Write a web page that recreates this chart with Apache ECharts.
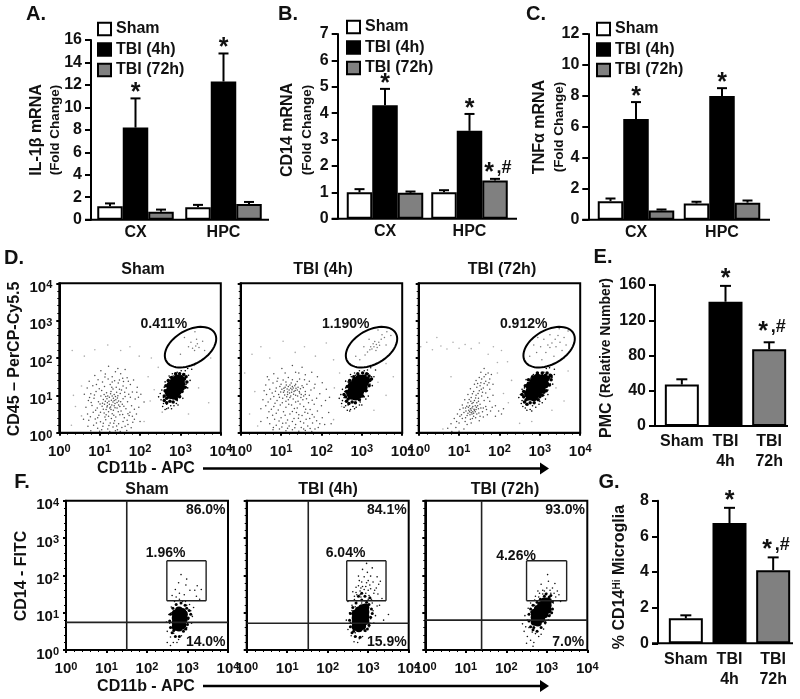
<!DOCTYPE html>
<html>
<head>
<meta charset="utf-8">
<script src="https://cdn.jsdelivr.net/npm/echarts@6/dist/echarts.min.js"></script>
<style>html,body{margin:0;background:#fff}#c{width:800px;height:699px}</style>
</head>
<body>
<div id="c"></div>
<script>
const FONT = 'Liberation Sans';
const INK = '#111';
const GROUPS = ['Sham', 'TBI (4h)', 'TBI (72h)'];
const FILLS = ['#fff', '#000', '#808080'];
const REGIONS = ['CX', 'HPC'];
const TIMES = ['Sham', 'TBI\n4h', 'TBI\n72h'];

// mRNA panels, one row per group, [CX, HPC]
const il1bMeans = [[1.2, 1.1], [8.2, 12.3], [0.7, 1.4]];
const il1bTops = [[1.45, 1.32], [10.8, 14.8], [0.9, 1.58]];
const il1bStars = [['', ''], ['*', '*'], ['', '']];
const cd14Means = [[1.0, 1.0], [4.3, 3.33], [0.98, 1.45]];
const cd14Tops = [[1.12, 1.08], [4.92, 3.97], [1.03, 1.51]];
const cd14Stars = [['', ''], ['*', '*'], ['', '*,#']];
const tnfMeans = [[1.2, 1.05], [6.5, 8.0], [0.6, 1.1]];
const tnfTops = [[1.37, 1.16], [7.6, 8.5], [0.66, 1.24]];
const tnfStars = [['', ''], ['*', '*'], ['', '']];

const pmcMeans = [47, 141, 87];
const pmcTops = [53, 159, 95];
const pmcStars = ['', '*', '*,#'];
const hiMeans = [1.4, 6.75, 4.1];
const hiTops = [1.57, 7.6, 4.82];
const hiStars = ['', '*', '*,#'];

// flow plots, log10 units
const dShamCloud = [[1.22,1.78],[1.45,1.72],[1.03,1.66],[1.63,1.69],[.88,1.53],[1.14,1.57],[1.31,1.5],[1.52,1.58],[1.68,1.47],[1.84,1.41],[.74,1.38],[.96,1.42],[1.07,1.36],[1.21,1.44],[1.37,1.39],[1.46,1.33],[1.59,1.37],[1.76,1.29],[1.93,1.22],[.69,1.2],[.83,1.26],[.99,1.18],[1.12,1.24],[1.26,1.29],[1.33,1.17],[1.41,1.22],[1.54,1.14],[1.66,1.2],[1.81,1.09],[2.02,1.03],[.78,1.04],[.91,1.1],[1.03,.98],[1.17,1.07],[1.24,.95],[1.36,1.02],[1.44,.93],[1.51,1.05],[1.63,.97],[1.72,1.03],[1.88,.9],[.72,.86],[.86,.92],[.97,.83],[1.09,.89],[1.19,.8],[1.29,.87],[1.38,.78],[1.47,.85],[1.56,.76],[1.69,.83],[1.79,.72],[1.97,.68],[.66,.68],[.81,.73],[.94,.66],[1.06,.71],[1.16,.62],[1.27,.69],[1.34,.6],[1.43,.66],[1.53,.58],[1.65,.64],[1.75,.55],[1.91,.5],[.7,.5],[.84,.55],[.98,.47],[1.11,.53],[1.22,.44],[1.31,.51],[1.4,.42],[1.5,.48],[1.61,.4],[1.73,.46],[1.86,.36],[.73,.33],[.89,.37],[1.02,.29],[1.15,.35],[1.26,.26],[1.37,.32],[1.47,.24],[1.58,.3],[1.7,.22],[1.82,.28],[.71,.17],[.85,.2],[.95,.12],[1.08,.17],[1.2,.1],[1.33,.15],[1.44,.08],[1.55,.14],[1.67,.06],[.78,.05],[1.0,.04],[1.25,.03],[1.39,.05],[1.28,1.1],[1.34,.92],[1.2,.98],[1.42,1.08],[1.31,.98],[1.24,.76],[1.36,.72],[1.12,.76],[1.47,.74],[1.18,.91],[1.4,.88],[1.28,.62],[1.22,.56],[1.09,.63],
[1.13,1.49],[1.39,1.63],[.92,1.29],[1.57,1.46],[1.71,1.38],[1.05,1.13],[1.31,1.36],[1.49,1.16],[1.62,1.08],[.87,1.01],[1.15,.97],[1.27,1.04],[1.39,.97],[1.58,.91],[1.76,.95],[.79,.81],[1.01,.77],[1.14,.84],[1.33,.82],[1.43,.81],[1.6,.71],[1.86,.63],[.9,.6],[1.02,.55],[1.19,.72],[1.25,.66],[1.38,.67],[1.5,.7],[1.7,.51],[.77,.43],[.95,.4],[1.16,.48],[1.35,.47],[1.46,.56],[1.57,.49],[1.81,.44],[1.09,.25],[1.29,.38],[1.42,.18],[1.63,.17],[.92,.26],[1.05,.08],[1.51,.03],[1.78,.13],[1.23,.19],[1.35,.25],[1.68,.33],[1.13,.42],[1.3,.74],[1.23,.84],[1.36,.86],[1.18,.69],[1.45,.99],[1.07,.79],[1.52,.83],[1.3,1.22],[1.11,1.02],[1.58,1.25],[.75,.94],[1.96,.95],[2.1,.82],[2.0,.3],[.62,1.03],[.6,.36],[1.92,1.08],[1.49,1.41]];
const dShamFaint = [[.35,1.0],[.4,.7],[.55,1.25],[.32,2.2],[.62,2.05],[.88,2.22],[1.2,2.35],[1.52,2.2],[1.75,2.3],[1.98,2.05],[2.28,2.0],[2.45,1.75],[2.2,1.5],[2.35,1.15],[2.25,.85],[2.55,.55],[3.35,1.8],[3.45,1.2],[3.7,.8],[3.2,.5],[2.1,.3],[.55,.45],[.3,.2],[3.75,2.0]];
const dShamCore = [[2.76,1.02],[2.76,1.14],[2.76,1.26],[2.84,1.0],[2.84,1.12],[2.84,1.24],[2.84,1.36],[2.92,1.1],[2.92,1.22],[2.92,1.34],[2.92,1.44],[3.0,1.22],[3.0,1.34],[3.0,1.42],[2.72,1.08]];
const dShamMid = [[2.6,.98],[2.62,1.12],[2.6,.86],[2.66,.8],[2.74,.84],[2.82,.82],[2.9,.9],[2.98,.96],[3.04,1.1],[3.12,1.22],[3.16,1.36],[3.14,1.5],[3.08,1.56],[2.98,1.58],[2.88,1.58],[2.78,1.48],[2.7,1.4],[2.64,1.26],[2.66,.92],[3.08,1.3],[3.02,1.5],[2.7,.96],[2.92,.98],[3.1,1.44]];
const dShamFringe = [[2.52,.88],[2.5,1.05],[2.56,.7],[2.6,1.22],[2.62,.62],[2.68,1.38],[2.7,.66],[2.74,1.48],[2.84,.72],[2.8,1.58],[2.92,.86],[2.92,1.62],[3.0,.98],[3.02,1.66],[3.08,1.16],[3.14,1.3],[3.1,1.58],[3.2,1.54],[3.28,1.7],[3.18,1.72],[2.58,.94],[2.66,.76],[2.76,.72],[2.62,1.12],[2.7,1.3],[3.06,1.24],[3.12,1.46],[2.98,1.6],[2.9,.78],[2.82,1.52],[2.46,.96],[2.54,1.14],[2.58,.78],[2.66,.64],[2.78,.64],[2.94,.74],[3.06,.92],[3.18,1.2],[3.24,1.4],[2.72,1.52],[2.62,1.36],[3.12,1.66]];
const dShamGate = [[3.38,2.32],[3.42,2.38],[3.3,2.26],[3.35,2.2],[3.46,2.28],[3.26,2.42],[3.4,2.5],[3.2,2.3],[3.0,2.1],[3.55,2.45],[3.36,2.7],[3.1,2.55],[3.6,2.2]];

const d4hCloud = [[1.02,1.72],[1.28,1.8],[1.52,1.75],[1.76,1.62],[.82,1.58],[1.1,1.6],[1.36,1.62],[1.6,1.55],[1.9,1.5],[.7,1.42],[.92,1.46],[1.18,1.48],[1.28,1.42],[1.46,1.44],[1.7,1.38],[2.02,1.34],[.62,1.28],[.8,1.33],[1.0,1.3],[1.12,1.36],[1.22,1.28],[1.36,1.3],[1.52,1.26],[1.64,1.3],[1.82,1.2],[2.12,1.16],[.72,1.16],[.88,1.2],[1.02,1.16],[1.1,1.22],[1.2,1.14],[1.3,1.2],[1.4,1.14],[1.48,1.18],[1.6,1.1],[1.74,1.14],[1.96,1.04],[.64,1.02],[.78,1.06],[.94,1.02],[1.06,1.08],[1.16,1.02],[1.26,1.08],[1.36,1.0],[1.46,1.06],[1.56,.98],[1.7,1.0],[1.88,.92],[2.1,.86],[.55,.88],[.74,.9],[.9,.86],[1.04,.92],[1.18,.88],[1.3,.9],[1.42,.84],[1.54,.88],[1.68,.8],[1.82,.76],[2.0,.72],[.62,.72],[.82,.7],[.98,.74],[1.12,.68],[1.26,.74],[1.4,.66],[1.56,.7],[1.72,.62],[1.9,.58],[2.18,.54],[.7,.56],[.88,.52],[1.06,.56],[1.22,.5],[1.38,.54],[1.52,.46],[1.66,.52],[1.82,.42],[2.02,.4],[.66,.4],[.84,.36],[1.0,.4],[1.16,.34],[1.32,.38],[1.48,.3],[1.62,.36],[1.78,.26],[1.96,.24],[.72,.24],[.88,.2],[1.04,.25],[1.2,.18],[1.36,.22],[1.5,.14],[1.66,.18],[1.84,.1],[.8,.08],[.96,.1],[1.12,.05],[1.28,.08],[1.44,.04],[1.6,.06],[1.76,.03],[1.32,1.1],[1.18,1.24],[1.24,.98],[1.42,1.22],[1.08,1.12],[1.5,1.02],[1.34,1.26],[1.14,.96],
[1.25,1.33],[1.4,1.37],[1.05,1.41],[.86,1.11],[.97,1.24],[1.15,1.17],[1.27,1.15],[1.37,1.19],[1.45,1.1],[1.55,1.21],[.99,1.09],[1.09,1.01],[1.21,1.06],[1.31,1.03],[1.41,.98],[1.6,1.02],[.82,.97],[.96,.95],[1.12,.84],[1.22,.94],[1.36,.82],[1.49,.94],[1.63,.91],[1.77,.87],[.68,.82],[.85,.79],[1.03,.8],[1.19,.76],[1.33,.65],[1.47,.77],[1.61,.63],[.76,.63],[.93,.61],[1.1,.47],[1.28,.57],[1.44,.48],[1.59,.55],[1.77,.49],[.79,.47],[.95,.31],[1.12,.26],[1.28,.3],[1.43,.39],[1.56,.26],[1.71,.38],[1.88,.32],[.81,.14],[1.02,.15],[1.16,.12],[1.34,.13],[1.56,.1],[1.72,.11],[1.92,.14],[2.08,.22],[1.24,1.19],[1.13,1.28],[1.35,1.13],[1.07,1.19],[1.28,1.24],[1.16,1.09],[.9,1.38],[1.58,1.42],[1.84,1.3],[1.44,1.6],[2.2,.95],[2.24,.24],[.5,.64],[.5,.3],[.58,1.12],[.66,1.5]];
const d4hFaint = [[.1,1.6],[.28,2.1],[.5,2.3],[.72,2.0],[1.05,2.45],[1.35,2.15],[1.58,2.3],[1.85,2.05],[2.12,2.4],[2.3,1.95],[2.45,1.6],[2.32,1.2],[2.5,.7],[2.3,.35],[3.4,1.35],[3.6,1.0],[3.3,.6],[3.78,1.5],[3.6,1.85],[.35,1.1],[.22,.5],[.42,.18]];
const d4hCore = [[2.76,1.0],[2.76,1.13],[2.76,1.26],[2.85,.98],[2.85,1.11],[2.85,1.24],[2.85,1.37],[2.94,1.08],[2.94,1.21],[2.94,1.34],[2.94,1.44],[3.03,1.2],[3.03,1.33],[3.03,1.43],[3.08,1.38],[2.72,1.06]];
const d4hMid = [[2.6,.96],[2.62,1.1],[2.62,.84],[2.68,.78],[2.76,.82],[2.84,.8],[2.94,.88],[3.02,.98],[3.1,1.12],[3.18,1.26],[3.2,1.4],[3.18,1.52],[3.12,1.58],[3.02,1.6],[2.9,1.58],[2.8,1.5],[2.7,1.4],[2.64,1.24],[2.66,.9],[3.12,1.3],[3.08,1.52],[2.7,.94],[2.96,.96],[3.14,1.46],[2.56,1.02],[3.24,1.44]];
const d4hFringe = [[2.52,.86],[2.48,1.02],[2.56,.68],[2.6,1.2],[2.64,.6],[2.66,1.36],[2.72,.62],[2.74,1.5],[2.86,.68],[2.82,1.6],[2.96,.82],[2.94,1.66],[3.06,.96],[3.06,1.66],[3.14,1.12],[3.2,1.3],[3.16,1.58],[3.24,1.5],[3.34,1.68],[3.22,1.74],[2.56,.94],[2.66,.74],[2.78,.7],[2.58,1.1],[2.68,1.34],[3.12,1.22],[3.18,1.46],[3.02,1.6],[2.94,.74],[2.84,1.54],[2.5,.78],[3.1,.9],[2.44,.92],[2.52,1.16],[2.6,.72],[2.7,.58],[2.82,.64],[3.0,.74],[3.16,.98],[3.26,1.26],[3.3,1.5],[2.72,1.56],[2.6,1.38],[3.14,1.68]];
const d4hGate = [[3.3,2.3],[3.36,2.36],[3.25,2.24],[3.42,2.42],[3.48,2.5],[3.2,2.22],[3.32,2.44],[3.14,2.16],[3.38,2.28],[3.5,2.62],[3.56,2.55],[3.44,2.34],[3.28,2.38],[3.62,2.7],[3.08,2.08],[2.95,1.95],[3.05,2.3],[3.6,2.35],[3.72,2.6],[3.4,2.75],[3.18,2.5],[2.85,2.05],[3.22,2.3],[3.35,2.2]];

const d72Cloud = [[1.62,1.72],[1.72,1.6],[1.54,1.62],[1.8,1.56],[1.62,1.5],[1.5,1.48],[1.76,1.44],[1.42,1.4],[1.66,1.38],[1.54,1.34],[1.38,1.3],[1.7,1.28],[1.84,1.3],[1.44,1.22],[1.6,1.2],[1.28,1.18],[1.76,1.16],[1.36,1.1],[1.5,1.12],[1.66,1.06],[1.22,1.02],[1.42,1.0],[1.56,.98],[1.84,1.0],[1.3,.94],[1.48,.92],[1.14,.88],[1.38,.86],[1.62,.86],[1.76,.84],[1.22,.8],[1.44,.8],[1.32,.78],[1.52,.76],[1.08,.74],[1.26,.72],[1.4,.72],[1.66,.7],[1.9,.72],[1.16,.66],[1.32,.66],[1.48,.64],[1.02,.62],[1.24,.6],[1.38,.6],[1.58,.56],[1.78,.58],[2.1,.64],[1.12,.54],[1.3,.54],[1.44,.5],[.96,.5],[1.2,.46],[1.36,.44],[1.6,.42],[1.9,.44],[2.05,.5],[.88,.38],[1.08,.38],[1.28,.36],[1.5,.32],[.8,.24],[1.0,.26],[1.2,.22],[.92,.14],[1.12,.1],[.72,.12],[1.0,.04],[.82,.03],[1.36,.52],[1.28,.64],[1.4,.56],[1.34,.7],[1.22,.52],[1.46,.72],[1.52,1.26],[1.58,1.08],[1.32,.5],[1.26,.56],
[1.47,1.05],[1.33,1.04],[1.55,1.16],[1.41,.93],[1.25,.89],[1.35,.81],[1.19,.71],[1.29,.84],[1.43,.68],[1.17,.58],[1.37,.63],[1.3,.6],[1.23,.68],[1.34,.56],[1.27,.48],[1.42,.62],[1.49,.53],[1.1,.66],[1.06,.48],[1.16,.4],[1.02,.44],[1.33,.38],[1.41,.4],[.94,.3],[1.15,.3],[1.3,.26],[1.71,.94],[1.6,.66],[1.7,.48],[1.52,.44],[1.82,.68],[1.98,.58],[1.62,1.32],[1.46,1.32],[1.56,1.44],[1.66,1.56],[1.74,1.34],[1.48,.84],[1.54,.66],[1.68,.62]];
const d72Faint = [[.05,2.3],[.2,2.42],[.34,2.22],[.45,2.55],[.55,2.32],[.7,2.24],[.85,2.42],[1.0,2.26],[1.15,2.36],[1.3,2.25],[1.5,2.4],[1.72,2.1],[1.85,2.3],[2.05,2.2],[1.95,1.88],[2.2,1.9],[1.95,1.6],[2.3,1.4],[2.1,1.05],[2.22,.8],[3.4,1.2],[3.6,.85],[3.3,.6],[2.8,.3],[2.5,.25],[.6,.1],[3.7,1.65],[.8,1.5]];
const d72Core = [[2.76,.98],[2.76,1.12],[2.76,1.25],[2.85,.96],[2.85,1.1],[2.85,1.24],[2.85,1.36],[2.94,1.06],[2.94,1.2],[2.94,1.34],[2.94,1.46],[3.03,1.16],[3.03,1.3],[3.03,1.44],[3.12,1.3],[3.12,1.44],[2.72,1.04]];
const d72Mid = [[2.6,.96],[2.6,1.1],[2.62,.82],[2.68,.76],[2.76,.8],[2.86,.8],[2.96,.88],[3.06,1.0],[3.16,1.12],[3.24,1.28],[3.28,1.42],[3.26,1.54],[3.18,1.6],[3.06,1.6],[2.94,1.6],[2.82,1.5],[2.72,1.42],[2.64,1.26],[2.66,.88],[3.18,1.3],[3.14,1.54],[2.7,.9],[3.0,.96],[3.22,1.48],[2.56,1.02],[3.28,1.52],[3.1,1.08]];
const d72Fringe = [[2.56,.86],[2.52,1.02],[2.58,.7],[2.62,1.2],[2.68,.6],[2.7,1.34],[2.76,.62],[2.78,1.46],[2.9,.68],[2.84,1.56],[3.0,.84],[2.96,1.6],[3.1,1.0],[3.1,1.62],[3.2,1.14],[3.26,1.3],[3.24,1.56],[3.3,1.48],[3.36,1.7],[3.24,1.74],[2.6,.94],[2.7,.74],[2.82,.72],[2.62,1.1],[2.72,1.3],[3.16,1.24],[3.22,1.42],[3.06,1.56],[2.98,.76],[2.88,1.5],[2.54,.78],[3.14,.9],[2.48,.94],[2.56,1.16],[2.64,.66],[2.8,.58],[3.06,.8],[3.2,1.02],[3.32,1.3],[3.36,1.56],[2.66,1.42],[3.16,1.72]];
const d72Gate = [[3.2,2.35],[3.3,2.4],[3.4,2.3],[3.5,2.42],[3.6,2.55],[3.1,2.5],[3.02,2.3],[2.92,2.15],[3.25,2.62],[3.45,2.6],[3.65,2.35],[3.15,2.15],[3.35,2.05],[2.85,2.35],[3.7,2.72],[3.55,2.2],[3.05,1.95],[2.75,2.05],[3.25,2.28],[3.38,2.5],[2.95,2.55],[3.48,2.78],[3.6,2.0]];

const fShamCore = [[2.71,.62],[2.71,.74],[2.71,.86],[2.71,.98],[2.79,.6],[2.79,.72],[2.79,.84],[2.79,.96],[2.79,1.06],[2.87,.66],[2.87,.78],[2.87,.9],[2.87,1.02],[2.91,.84],[2.91,.96]];
const fShamMid = [[2.58,.6],[2.56,.78],[2.58,.96],[2.62,.46],[2.64,1.12],[2.7,.36],[2.72,1.22],[2.8,.36],[2.84,1.26],[2.9,.5],[2.94,1.2],[3.0,.68],[3.02,.86],[3.04,1.06],[2.96,.56],[3.08,.96],[2.66,.52],[2.98,1.12]];
const fShamFringe = [[2.5,.5],[2.48,.75],[2.54,.95],[2.58,.35],[2.6,1.15],[2.65,.2],[2.68,1.3],[2.78,.28],[2.85,.38],[2.98,.6],[3.02,.82],[3.08,1.05],[3.12,.9],[3.05,1.22],[3.15,1.14],[2.95,1.3],[2.8,1.36],[2.72,1.42],[2.6,.6],[2.64,.85],[2.66,.45],[2.7,.36],[2.92,.55],[3.0,.72],[2.98,1.2],[2.88,1.3],[2.56,.72],[2.74,.2],[3.1,.72],[2.6,1.0],[2.8,1.52],[2.92,1.48],[3.06,1.6],[2.7,1.62],[2.62,1.46],[3.22,1.44],[2.96,1.74],[2.78,1.8],[3.24,1.72],[3.3,1.36],[2.5,.2],[2.58,.12],[3.18,1.6],[3.34,1.62],[2.84,2.02],[2.98,1.9]];
const f4hCore = [[2.69,.62],[2.69,.74],[2.69,.86],[2.69,.98],[2.77,.58],[2.77,.7],[2.77,.82],[2.77,.94],[2.77,1.06],[2.85,.64],[2.85,.76],[2.85,.88],[2.85,1.0],[2.85,1.12],[2.93,.78],[2.93,.9],[2.93,1.02],[2.93,1.14]];
const f4hMid = [[2.56,.62],[2.54,.8],[2.56,.98],[2.6,.46],[2.62,1.14],[2.68,.36],[2.7,1.26],[2.8,.34],[2.84,1.34],[2.92,.52],[2.96,1.28],[3.02,.66],[3.06,.88],[3.08,1.1],[2.98,.56],[3.1,.98],[2.64,.5],[3.02,1.22],[2.76,1.44],[2.92,1.44],[3.04,1.4],[2.84,1.52]];
const f4hFringe = [[2.5,.55],[2.46,.8],[2.54,1.0],[2.58,.38],[2.6,1.2],[2.65,.22],[2.66,1.35],[2.78,.3],[2.86,.36],[3.02,.62],[3.06,.84],[3.12,1.05],[3.18,.92],[3.1,1.26],[3.22,1.18],[3.0,1.36],[2.82,1.42],[2.72,1.48],[2.62,.62],[2.64,.88],[2.68,.46],[2.7,.36],[2.94,.5],[3.04,.72],[3.0,1.22],[2.9,1.32],[2.56,.74],[2.74,.2],[3.14,.72],[2.6,1.06],[2.8,1.58],[2.94,1.52],[3.06,1.64],[2.7,1.68],[2.62,1.56],[3.24,1.5],[2.96,1.8],[2.78,1.86],[3.26,1.76],[3.34,1.38],[2.86,1.7],[2.72,1.32],[2.92,1.22],[3.02,1.46],[2.84,1.26],[2.68,1.16],[3.08,1.36],[2.9,1.96],[3.12,1.82],[2.76,1.98],[2.98,2.08],[2.86,2.16],[3.06,1.98],[3.22,1.96],[3.0,1.6],[2.8,1.48],[2.66,1.44],[3.16,1.6],[3.5,.95],[2.9,1.62],[2.76,1.72],[2.84,1.82],[3.04,1.74],[3.14,1.52],[2.7,1.54],[2.94,1.7],[3.2,1.66],[2.82,1.66],[3.0,1.86],[2.96,2.32],[3.1,2.2],[3.3,1.84],[3.28,1.2],[3.38,.8],[2.5,1.3]];
const f72Core = [[2.7,.76],[2.7,.88],[2.7,1.0],[2.78,.74],[2.78,.86],[2.78,.98],[2.78,1.1],[2.86,.84],[2.86,.96],[2.86,1.08],[2.86,1.2],[2.94,.96],[2.94,1.08],[2.94,1.2],[2.94,1.3],[3.02,1.08],[3.02,1.2],[3.02,1.3]];
const f72Mid = [[2.56,.78],[2.56,.96],[2.6,.62],[2.6,1.1],[2.66,.54],[2.66,1.2],[2.76,.5],[2.76,1.28],[2.86,.6],[2.84,1.36],[2.96,.74],[2.94,1.44],[3.06,.92],[3.06,1.42],[3.14,1.1],[3.14,1.3],[3.1,1.46],[2.98,1.5],[2.68,.6],[3.12,1.0]];
const f72Fringe = [[2.4,.7],[2.44,.5],[2.46,.92],[2.52,.36],[2.54,1.12],[2.6,.26],[2.6,1.26],[2.68,.2],[2.7,1.34],[2.8,.36],[2.8,1.42],[2.92,.56],[2.9,1.5],[3.04,.8],[3.0,1.52],[3.12,1.0],[3.1,1.52],[3.16,1.26],[3.22,1.42],[2.56,.6],[2.52,.8],[2.64,.48],[2.6,1.02],[2.72,.44],[2.7,1.2],[2.96,.7],[3.08,.94],[3.1,1.36],[2.9,1.6],[2.78,1.58],[3.0,1.66],[3.14,1.66],[3.26,1.58],[2.86,1.76],[3.04,1.84],[3.2,1.78],[2.66,.1],[2.5,.18],[3.34,1.3],[3.02,2.02],[2.82,1.52],[2.94,1.58],[3.08,1.6],[2.72,1.44],[3.18,1.52],[3.3,1.48],[2.48,.62],[2.86,.42]];

const dGateCenters = [[3.25, 2.29], [3.24, 2.29], [3.23, 2.29]];
const dGateLabels = ['0.411%', '1.190%', '0.912%'];
const fQuadX = [1.5, 1.52, 1.39];
const fQuadY = [0.74, 0.715, 0.8];
const fBoxes = [[2.49, 1.32, 3.46, 2.39], [2.47, 1.32, 3.44, 2.39], [2.5, 1.32, 3.49, 2.39]];
const fLabels = [
  [[3.45, 3.75, '86.0%'], [2.46, 2.59, '1.96%'], [3.45, 0.2, '14.0%']],
  [[3.46, 3.75, '84.1%'], [2.44, 2.59, '6.04%'], [3.46, 0.2, '15.9%']],
  [[3.45, 3.75, '93.0%'], [2.24, 2.52, '4.26%'], [3.53, 0.2, '7.0%']]
];

const grid = [], xAxis = [], yAxis = [], series = [], legend = [], graphic = [];

function text(x, y, str, size, extra) {
  graphic.push(Object.assign({
    type: 'text', x, y, silent: true,
    style: Object.assign({ text: str, font: `bold ${size}px "${FONT}"`, fill: INK, textAlign: 'center', textVerticalAlign: 'middle' }, extra && extra.style)
  }, extra && extra.el));
}
function vtext(x, y, str, size, rich) {
  text(x, y, str, size, { el: { rotation: Math.PI / 2 }, style: rich ? { rich } : null });
}
function rule(x1, x2, y, w) {
  graphic.push({ type: 'line', silent: true, shape: { x1, y1: y, x2, y2: y }, style: { stroke: '#000', lineWidth: w || 2 } });
}
function arrow(x1, x2, y) {
  rule(x1, x2 - 8, y, 2.5);
  graphic.push({ type: 'polygon', silent: true, shape: { points: [[x2 - 9, y - 6], [x2, y], [x2 - 9, y + 6]] }, style: { fill: '#000' } });
}

// error whisker plus significance mark, px offset keeps it on its dodged bar
function errSeries(gi, rows, offset, capW, starLift, hashLift) {
  series.push({
    type: 'custom', xAxisIndex: gi, yAxisIndex: gi, silent: true, z: 1, data: rows,
    renderItem(p, api) {
      const a = api.coord([api.value(0), api.value(1)]);
      const b = api.coord([api.value(0), api.value(2)]);
      const x = a[0] + offset;
      const st = rows[p.dataIndex][3];
      const kids = [
        { type: 'line', shape: { x1: x, y1: a[1], x2: x, y2: b[1] }, style: { stroke: '#000', lineWidth: 2 } },
        { type: 'line', shape: { x1: x - capW / 2, y1: b[1], x2: x + capW / 2, y2: b[1] }, style: { stroke: '#000', lineWidth: 2 } }
      ];
      const font = s => ({ font: `bold ${s}px "${FONT}"`, fill: INK, textAlign: 'center', textVerticalAlign: 'middle' });
      if (st === '*') {
        kids.push({ type: 'text', x, y: b[1] - starLift, style: Object.assign({ text: '*' }, font(25)) });
      } else if (st) {
        kids.push({ type: 'text', x: x - 6, y: b[1] - hashLift + 5, style: Object.assign({ text: '*' }, font(25)) });
        kids.push({ type: 'text', x: x + 9, y: b[1] - hashLift, style: Object.assign({ text: ',#' }, font(18)) });
      }
      return { type: 'group', children: kids };
    }
  });
}

function axisBase(gi, max, interval, yAxisX, left) {
  yAxis.push({
    gridIndex: gi, type: 'value', min: 0, max, interval, offset: left - yAxisX,
    splitLine: { show: false },
    axisLine: { show: true, onZero: false, lineStyle: { color: '#000', width: 2 } },
    axisTick: { show: true, length: 6, lineStyle: { color: '#000', width: 2 } },
    axisLabel: { color: INK, fontFamily: FONT, fontWeight: 'bold', fontSize: 16, margin: 9 }
  });
}

function mrnaPanel(cfg, means, tops, stars) {
  const gi = grid.length;
  const s = cfg.c2 - cfg.c1, left = cfg.c1 - s / 2;
  grid.push({ left, top: cfg.top, width: 2 * s, height: cfg.bottom - cfg.top });
  xAxis.push({
    gridIndex: gi, type: 'category', data: REGIONS,
    axisLine: { show: false }, axisTick: { show: false },
    axisLabel: { color: INK, fontFamily: FONT, fontWeight: 'bold', fontSize: 16, margin: 5 }
  });
  axisBase(gi, cfg.max, cfg.interval, cfg.y, left);
  means.forEach((vals, k) => {
    series.push({
      type: 'bar', name: GROUPS[k], xAxisIndex: gi, yAxisIndex: gi, data: vals, barWidth: 25.5, barGap: 0, silent: true, z: 2,
      itemStyle: { color: FILLS[k], borderColor: '#000', borderWidth: 2 }
    });
    errSeries(gi, vals.map((v, i) => [i, v, tops[k][i], stars[k][i]]), (k - 1) * 25.5, 10, 5, 11);
  });
  rule(cfg.y - 6, cfg.xEnd, cfg.bottom, 2);
  legend.push({
    selectedMode: false, orient: 'vertical', left: cfg.legendX, top: cfg.legendY, padding: 0, itemWidth: 13, itemHeight: 12.5, itemGap: 4.5, icon: 'rect',
    textStyle: { color: INK, fontFamily: FONT, fontWeight: 'bold', fontSize: 16 },
    data: GROUPS.map((n, k) => ({ name: n, icon: 'rect', itemStyle: { color: FILLS[k], borderColor: '#000', borderWidth: 2 } }))
  });
}

function timePanel(cfg, means, tops, stars) {
  const gi = grid.length;
  grid.push({ left: cfg.left, top: cfg.top, width: cfg.width, height: cfg.bottom - cfg.top });
  xAxis.push({
    gridIndex: gi, type: 'category', data: TIMES,
    axisLine: { show: false }, axisTick: { show: false },
    axisLabel: { color: INK, fontFamily: FONT, fontWeight: 'bold', fontSize: 16, margin: cfg.labelGap, lineHeight: 20.5, interval: 0 }
  });
  axisBase(gi, cfg.max, cfg.interval, cfg.y, cfg.left);
  series.push({
    type: 'bar', name: cfg.name, xAxisIndex: gi, yAxisIndex: gi, barWidth: 34, silent: true, z: 2,
    data: means.map((v, k) => ({ value: v, itemStyle: { color: FILLS[k], borderColor: '#000', borderWidth: 2 } }))
  });
  errSeries(gi, means.map((v, i) => [i, v, tops[i], stars[i]]), 0, 11, 6.5, cfg.hashLift);
  rule(cfg.y - 6, cfg.xEnd, cfg.bottom, 2);
}

function flowGrid(left, top, w, h, showY) {
  const gi = grid.length;
  grid.push({ left, top, width: w, height: h, show: true, borderColor: '#000', borderWidth: 2, backgroundColor: '#fff' });
  const axisCommon = {
    gridIndex: gi, type: 'value', min: 0, max: 4, interval: 1, splitLine: { show: false },
    axisLine: { show: true, onZero: false, lineStyle: { color: '#000', width: 2 } },
    axisTick: { show: true, length: 3, lineStyle: { color: '#000', width: 2 } },
    minorTick: { show: true, splitNumber: 5, length: 2, lineStyle: { color: '#000', width: 1 } },
    minorSplitLine: { show: false }
  };
  const lab = {
    color: INK, fontFamily: FONT, fontWeight: 'bold', fontSize: 15,
    formatter: v => `10{s|${v}}`,
    rich: { s: { fontSize: 11, fontWeight: 'bold', fontFamily: FONT, color: INK, verticalAlign: 'top', padding: [0, 0, 5, 0] } }
  };
  xAxis.push(Object.assign({}, axisCommon, { axisLabel: Object.assign({}, lab, { margin: 11 }) }));
  yAxis.push(Object.assign({}, axisCommon, { axisLabel: Object.assign({ show: showY }, lab, { margin: 7, padding: [9, 0, 0, 0] }) }));
  return gi;
}

function dots(gi, data, size, color, opacity) {
  series.push({ type: 'scatter', xAxisIndex: gi, yAxisIndex: gi, data, symbolSize: size, silent: true, z: 2, itemStyle: { color, opacity } });
}

function pctLabels(gi, data) {
  series.push({
    type: 'scatter', xAxisIndex: gi, yAxisIndex: gi, data, symbolSize: 0, silent: true, z: 5,
    itemStyle: { opacity: 1 },
    label: { show: true, position: 'inside', formatter: p => p.value[2], color: INK, fontFamily: FONT, fontWeight: 'bold', fontSize: 14 }
  });
}

// rotated oval gate, radii in px
function ovalGate(gi, center) {
  series.push({
    type: 'custom', xAxisIndex: gi, yAxisIndex: gi, silent: true, z: 4, data: [center],
    renderItem(p, api) {
      const c = api.coord([api.value(0), api.value(1)]);
      const pts = [];
      const th = -Math.PI / 6;
      for (let i = 0; i < 60; i++) {
        const t = i / 60 * 2 * Math.PI, ex = 28 * Math.cos(t), ey = 17 * Math.sin(t);
        pts.push([c[0] + ex * Math.cos(th) - ey * Math.sin(th), c[1] + ex * Math.sin(th) + ey * Math.cos(th)]);
      }
      return { type: 'polygon', shape: { points: pts }, style: { fill: 'none', stroke: '#000', lineWidth: 2 } };
    }
  });
}

// quadrant lines and the CD14 high box
function quadGate(gi, qx, qy, box) {
  series.push({
    type: 'custom', xAxisIndex: gi, yAxisIndex: gi, silent: true, z: 4, data: [[qx, qy, ...box]],
    renderItem(p, api) {
      const v = i => api.value(i);
      const seg = (a, b, w) => {
        const p1 = api.coord(a), p2 = api.coord(b);
        return { type: 'line', shape: { x1: p1[0], y1: p1[1], x2: p2[0], y2: p2[1] }, style: { stroke: '#222', lineWidth: w } };
      };
      return {
        type: 'group', children: [
          seg([v(0), 0], [v(0), 4], 1.6), seg([0, v(1)], [4, v(1)], 1.6),
          seg([v(2), v(3)], [v(4), v(3)], 1.4), seg([v(4), v(3)], [v(4), v(5)], 1.4),
          seg([v(4), v(5)], [v(2), v(5)], 1.4), seg([v(2), v(5)], [v(2), v(3)], 1.4)
        ]
      };
    }
  });
}

mrnaPanel({ c1: 135.5, c2: 223.5, y: 91, top: 40, bottom: 219.7, max: 16, interval: 2, xEnd: 269, legendX: 97, legendY: 21 }, il1bMeans, il1bTops, il1bStars);
mrnaPanel({ c1: 385, c2: 469.5, y: 337.7, top: 34, bottom: 218.7, max: 7, interval: 1, xEnd: 517, legendX: 346, legendY: 19 }, cd14Means, cd14Tops, cd14Stars);
mrnaPanel({ c1: 636, c2: 722, y: 588.3, top: 34, bottom: 219.7, max: 12, interval: 2, xEnd: 770, legendX: 596, legendY: 21 }, tnfMeans, tnfTops, tnfStars);

timePanel({ name: 'PMC', left: 660, width: 131, y: 655, top: 285, bottom: 426, max: 160, interval: 40, xEnd: 788, labelGap: 5, hashLift: 15 }, pmcMeans, pmcTops, pmcStars);
timePanel({ name: 'CD14Hi', left: 664, width: 131, y: 658, top: 500.7, bottom: 643.3, max: 8, interval: 2, xEnd: 793, labelGap: 6, hashLift: 12 }, hiMeans, hiTops, hiStars);

const dLeft = [59.3, 240.7, 418.7];
const dClouds = [dShamCloud, d4hCloud, d72Cloud];
const dFaints = [dShamFaint, d4hFaint, d72Faint];
const dCores = [dShamCore, d4hCore, d72Core];
const dMids = [dShamMid, d4hMid, d72Mid];
const dFringes = [dShamFringe, d4hFringe, d72Fringe];
const dGatePts = [dShamGate, d4hGate, d72Gate];
dLeft.forEach((l, i) => {
  const gi = flowGrid(l, 283.3, 161.5, 149.4, i === 0);
  dots(gi, dFaints[i], 1.6, '#999', 0.8);
  dots(gi, dClouds[i], 1.5, '#222', 0.8);
  dots(gi, dGatePts[i], 1.5, '#555', 0.8);
  dots(gi, dFringes[i], 1.6, '#000', 1);
  dots(gi, dMids[i], 3.5, '#000', 1);
  dots(gi, dCores[i], 9, '#000', 1);
  ovalGate(gi, dGateCenters[i]);
  pctLabels(gi, [[i === 0 ? 2.59 : 2.6, 2.91, dGateLabels[i]]]);
});

const fLeft = [66, 246.7, 425.3];
const fCores = [fShamCore, f4hCore, f72Core];
const fMids = [fShamMid, f4hMid, f72Mid];
const fFringes = [fShamFringe, f4hFringe, f72Fringe];
fLeft.forEach((l, i) => {
  const gi = flowGrid(l, 500.7, 162, 149.3, i === 0);
  dots(gi, fFringes[i], 1.6, '#111', 1);
  dots(gi, fMids[i], 3, '#000', 1);
  dots(gi, fCores[i], 8, '#000', 1);
  quadGate(gi, fQuadX[i], fQuadY[i], fBoxes[i]);
  pctLabels(gi, fLabels[i]);
});

// panel letters
[['A.', 36, 14], ['B.', 288, 14], ['C.', 536, 14], ['D.', 14, 258], ['E.', 603, 257], ['F.', 22, 482], ['G.', 609, 482]].forEach(t => text(t[1], t[2], t[0], 20));

// y titles
vtext(37, 130, 'IL-1β mRNA', 16);
vtext(55, 130, '(Fold Change)', 13.5);
vtext(288, 130, 'CD14 mRNA', 16);
vtext(307, 130, '(Fold Change)', 13.5);
vtext(540, 127, 'TNFα mRNA', 16);
vtext(559, 127, '(Fold Change)', 13.5);
vtext(15, 359, 'CD45 – PerCP-Cy5.5', 16);
vtext(22, 576, 'CD14 - FITC', 16);

const richE = { a: { fontSize: 16, fontWeight: 'bold', fontFamily: FONT, fill: INK }, b: { fontSize: 14, fontWeight: 'bold', fontFamily: FONT, fill: INK } };
vtext(606.5, 358, '{a|PMC} {b|(Relative Number)}', 16, richE);
const richG = { a: { fontSize: 16, fontWeight: 'bold', fontFamily: FONT, fill: INK }, s: { fontSize: 10, fontWeight: 'bold', fontFamily: FONT, fill: INK, verticalAlign: 'top' } };
vtext(620, 577, '{a|% CD14}{s|Hi}{a| Microglia}', 16, richG);

// flow titles and shared x titles
[['Sham', 143], ['TBI (4h)', 323], ['TBI (72h)', 502]].forEach(t => text(t[1], 270, t[0], 16));
[['Sham', 147], ['TBI (4h)', 328], ['TBI (72h)', 505]].forEach(t => text(t[1], 490, t[0], 16));
text(146, 469, 'CD11b - APC', 16);
arrow(203, 549, 468.5);
text(146, 687, 'CD11b - APC', 16);
arrow(203, 549, 686);

const chart = echarts.init(document.getElementById('c'), null, { renderer: 'canvas' });
chart.setOption({ animation: false, backgroundColor: '#fff', grid, xAxis, yAxis, series, legend, graphic: { elements: graphic } });
</script>
</body>
</html>
